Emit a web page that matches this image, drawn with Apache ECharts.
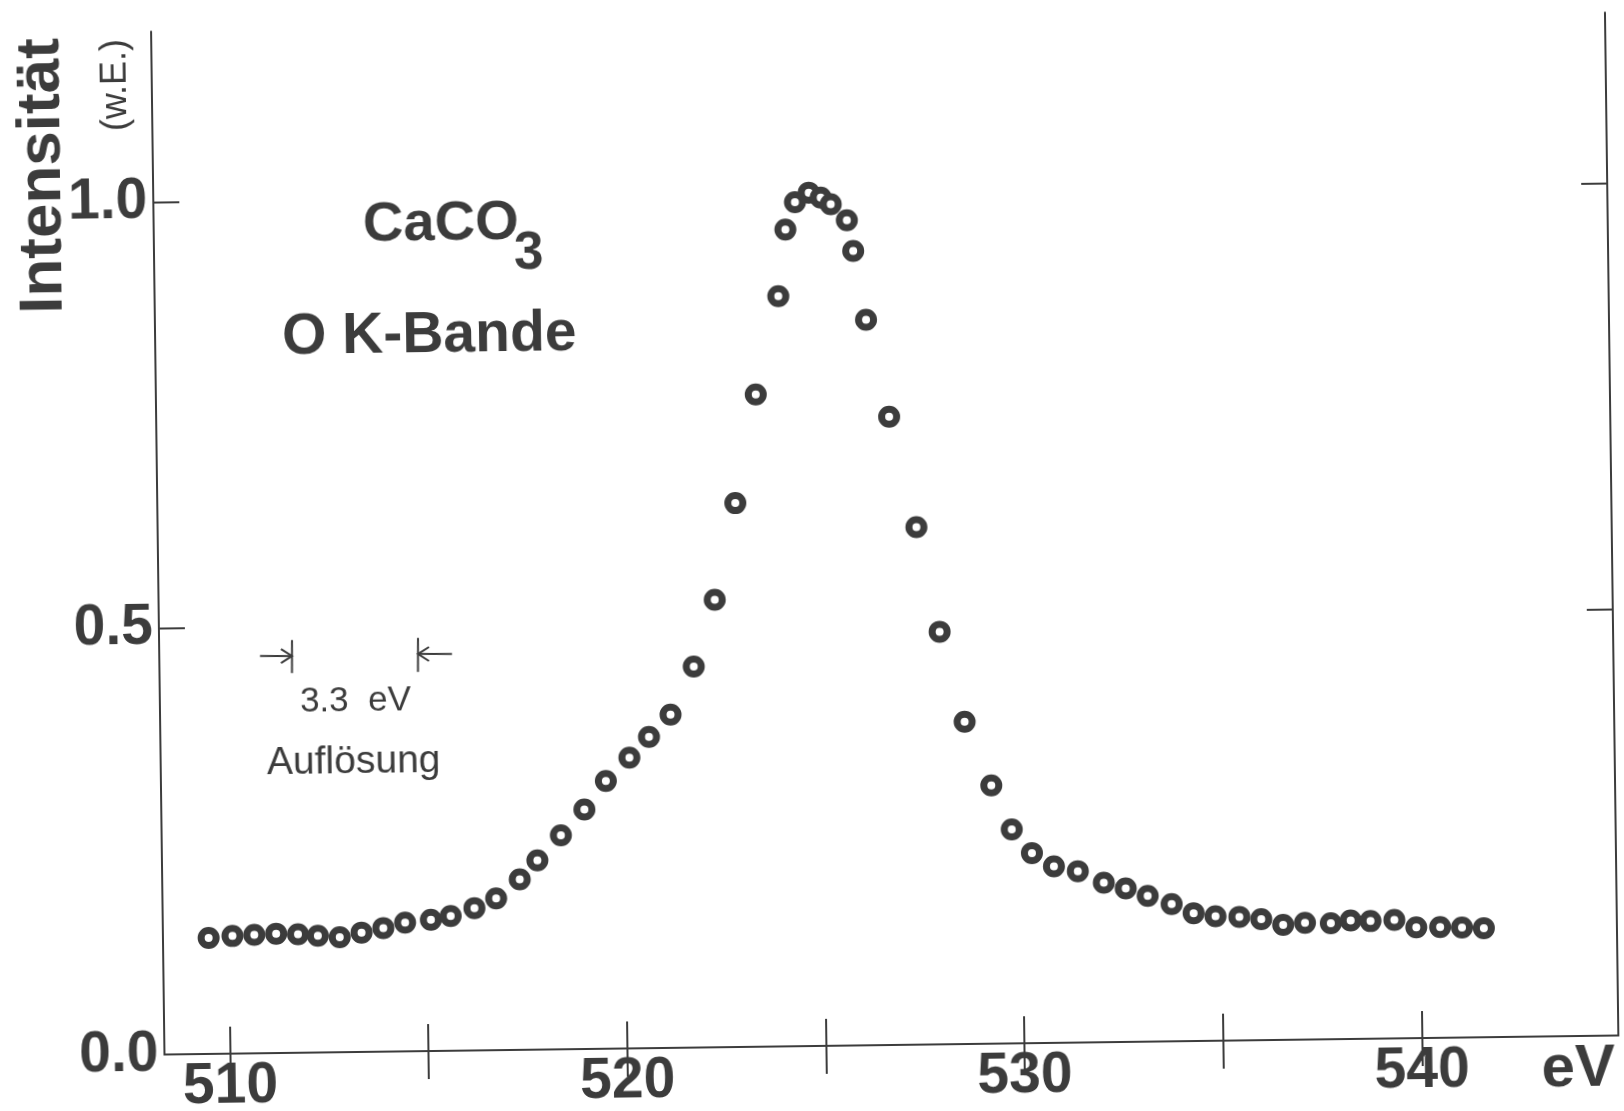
<!DOCTYPE html>
<html><head><meta charset="utf-8">
<script src="https://cdn.jsdelivr.net/npm/echarts@6/dist/echarts.min.js"></script>
<style>
html,body{margin:0;padding:0;background:#ffffff;overflow:hidden}
#c{width:1624px;height:1111px;transform:rotate(-0.75deg);transform-origin:812px 555.5px}
</style>
</head><body><div id="c"></div>
<script>
// Photon energy (eV) and relative intensity (w.E.)
const energy = [509.5,510.1,510.65,511.2,511.75,512.25,512.8,513.35,513.9,514.45,515.1,515.6,516.2,516.75,517.35,517.8,518.4,519.0,519.55,520.15,520.65,521.2,521.8,522.35,522.9,523.45,524.05,524.25,524.5,524.85,525.15,525.4,525.8,525.95,526.25,526.8,527.45,528.0,528.6,529.25,529.75,530.25,530.8,531.4,532.05,532.6,533.15,533.75,534.3,534.85,535.45,536.0,536.55,537.1,537.75,538.25,538.75,539.35,539.9,540.5,541.05,541.6];
const intensity = [0.136,0.138,0.139,0.140,0.139,0.137,0.135,0.140,0.145,0.151,0.154,0.158,0.167,0.178,0.200,0.222,0.251,0.281,0.314,0.341,0.365,0.391,0.447,0.525,0.638,0.765,0.880,0.958,0.990,1.001,0.995,0.987,0.968,0.932,0.851,0.737,0.607,0.484,0.378,0.303,0.251,0.223,0.207,0.201,0.187,0.180,0.171,0.161,0.150,0.146,0.145,0.142,0.135,0.137,0.136,0.139,0.138,0.139,0.130,0.130,0.129,0.128];
const xTickValues = [510,515,520,525,530,535,540];
const xLabelValues = [510,520,530,540];
const yTickValues = [0,0.5,1.0];
const yLabelValues = [0,0.5,1.0];

const INK = '#3c3c3c';
const FONT = "'Liberation Sans', Arial, sans-serif";
const ANG = 0.75*Math.PI/180, CX = 812, CY = 555.5;
// map a point of the (tilted) reference page into the unrotated chart frame
function P(rx, ry){
  const dx = rx-CX, dy = ry-CY, c = Math.cos(ANG), s = Math.sin(ANG);
  return [CX + dx*c - dy*s, CY + dx*s + dy*c];
}
function txt(text, rx, ry, size, opts){
  const p = P(rx, ry);
  return Object.assign({type:'text', x:p[0], y:p[1], z:10,
    style: Object.assign({text:text, fontSize:size, fontFamily:FONT,
      fill:INK, align:'left', verticalAlign:'middle'}, opts && opts.style || {})},
    opts && opts.el || {});
}
function seg(pts){
  return {type:'polyline', z:10, shape:{points: pts.map(p=>P(p[0],p[1]))},
    style:{stroke:INK, lineWidth:2, fill:null}};
}

const chart = echarts.init(document.getElementById('c'));
const axisLine = {show:true, lineStyle:{color:INK, width:2}};
const tickStyle = {color:INK, width:2};
const labelFont = {fontSize:57, fontWeight:'bold', color:INK, fontFamily:FONT};

const option = {
  backgroundColor:'#ffffff',
  animation:false,
  grid:{left:158, top:23, width:1454, height:1023, containLabel:false},
  xAxis:[
    {type:'value', position:'bottom', min:508.35, max:544.95,
     axisLine:axisLine, splitLine:{show:false},
     axisTick:{show:true, inside:true, length:27, lineStyle:tickStyle, customValues:xTickValues},
     axisLabel:Object.assign({show:true, margin:5, customValues:xLabelValues}, labelFont)},
    {type:'value', position:'top', min:508.35, max:544.95,
     axisLine:axisLine, splitLine:{show:false},
     axisTick:{show:true, inside:true, length:28, lineStyle:tickStyle, customValues:xTickValues},
     axisLabel:{show:false}}
  ],
  yAxis:[
    {type:'value', position:'left', min:0, max:1.2,
     axisLine:axisLine, splitLine:{show:false},
     axisTick:{show:true, inside:true, length:26, lineStyle:tickStyle, customValues:yTickValues},
     axisLabel:Object.assign({show:true, margin:6, customValues:yLabelValues,
       formatter:v=>Number(v).toFixed(1)}, labelFont)},
    {type:'value', position:'right', min:0, max:1.2,
     axisLine:axisLine, splitLine:{show:false},
     axisTick:{show:true, inside:true, length:26, lineStyle:tickStyle, customValues:yTickValues},
     axisLabel:{show:false}}
  ],
  series:[{
    type:'scatter', xAxisIndex:0, yAxisIndex:0,
    data: energy.map((e,i)=>[e, intensity[i]]),
    symbol:'circle', symbolSize:15,
    itemStyle:{color:'#ffffff', borderColor:INK, borderWidth:7, opacity:1},
    emphasis:{disabled:true}
  }],
  graphic:[
    txt('Intensität', 43, 176, 62, {style:{fontWeight:'bold', align:'center'}, el:{rotation:Math.PI/2}}),
    txt('(w.E.)', 116, 85, 36, {style:{align:'center'}, el:{rotation:Math.PI/2}}),
    txt('CaCO', 363, 225, 56, {style:{fontWeight:'bold'}}),
    txt('3', 514, 254, 53, {style:{fontWeight:'bold'}}),
    txt('O K-Bande', 282, 338, 57, {style:{fontWeight:'bold'}}),
    txt('3.3  eV', 300, 702, 35),
    txt('Auflösung', 267, 763, 39),
    txt('eV', 1615, 1069, 60, {style:{fontWeight:'bold', align:'right'}}),
    // resolution marker
    seg([[292,640],[292,673]]),
    seg([[260,656],[292,656]]),
    seg([[281,649],[292,656],[281,663]]),
    seg([[418,638],[418,672]]),
    seg([[418,654],[452,654]]),
    seg([[429,647],[418,654],[429,661]])
  ]
};
chart.setOption(option);
</script></body></html>
